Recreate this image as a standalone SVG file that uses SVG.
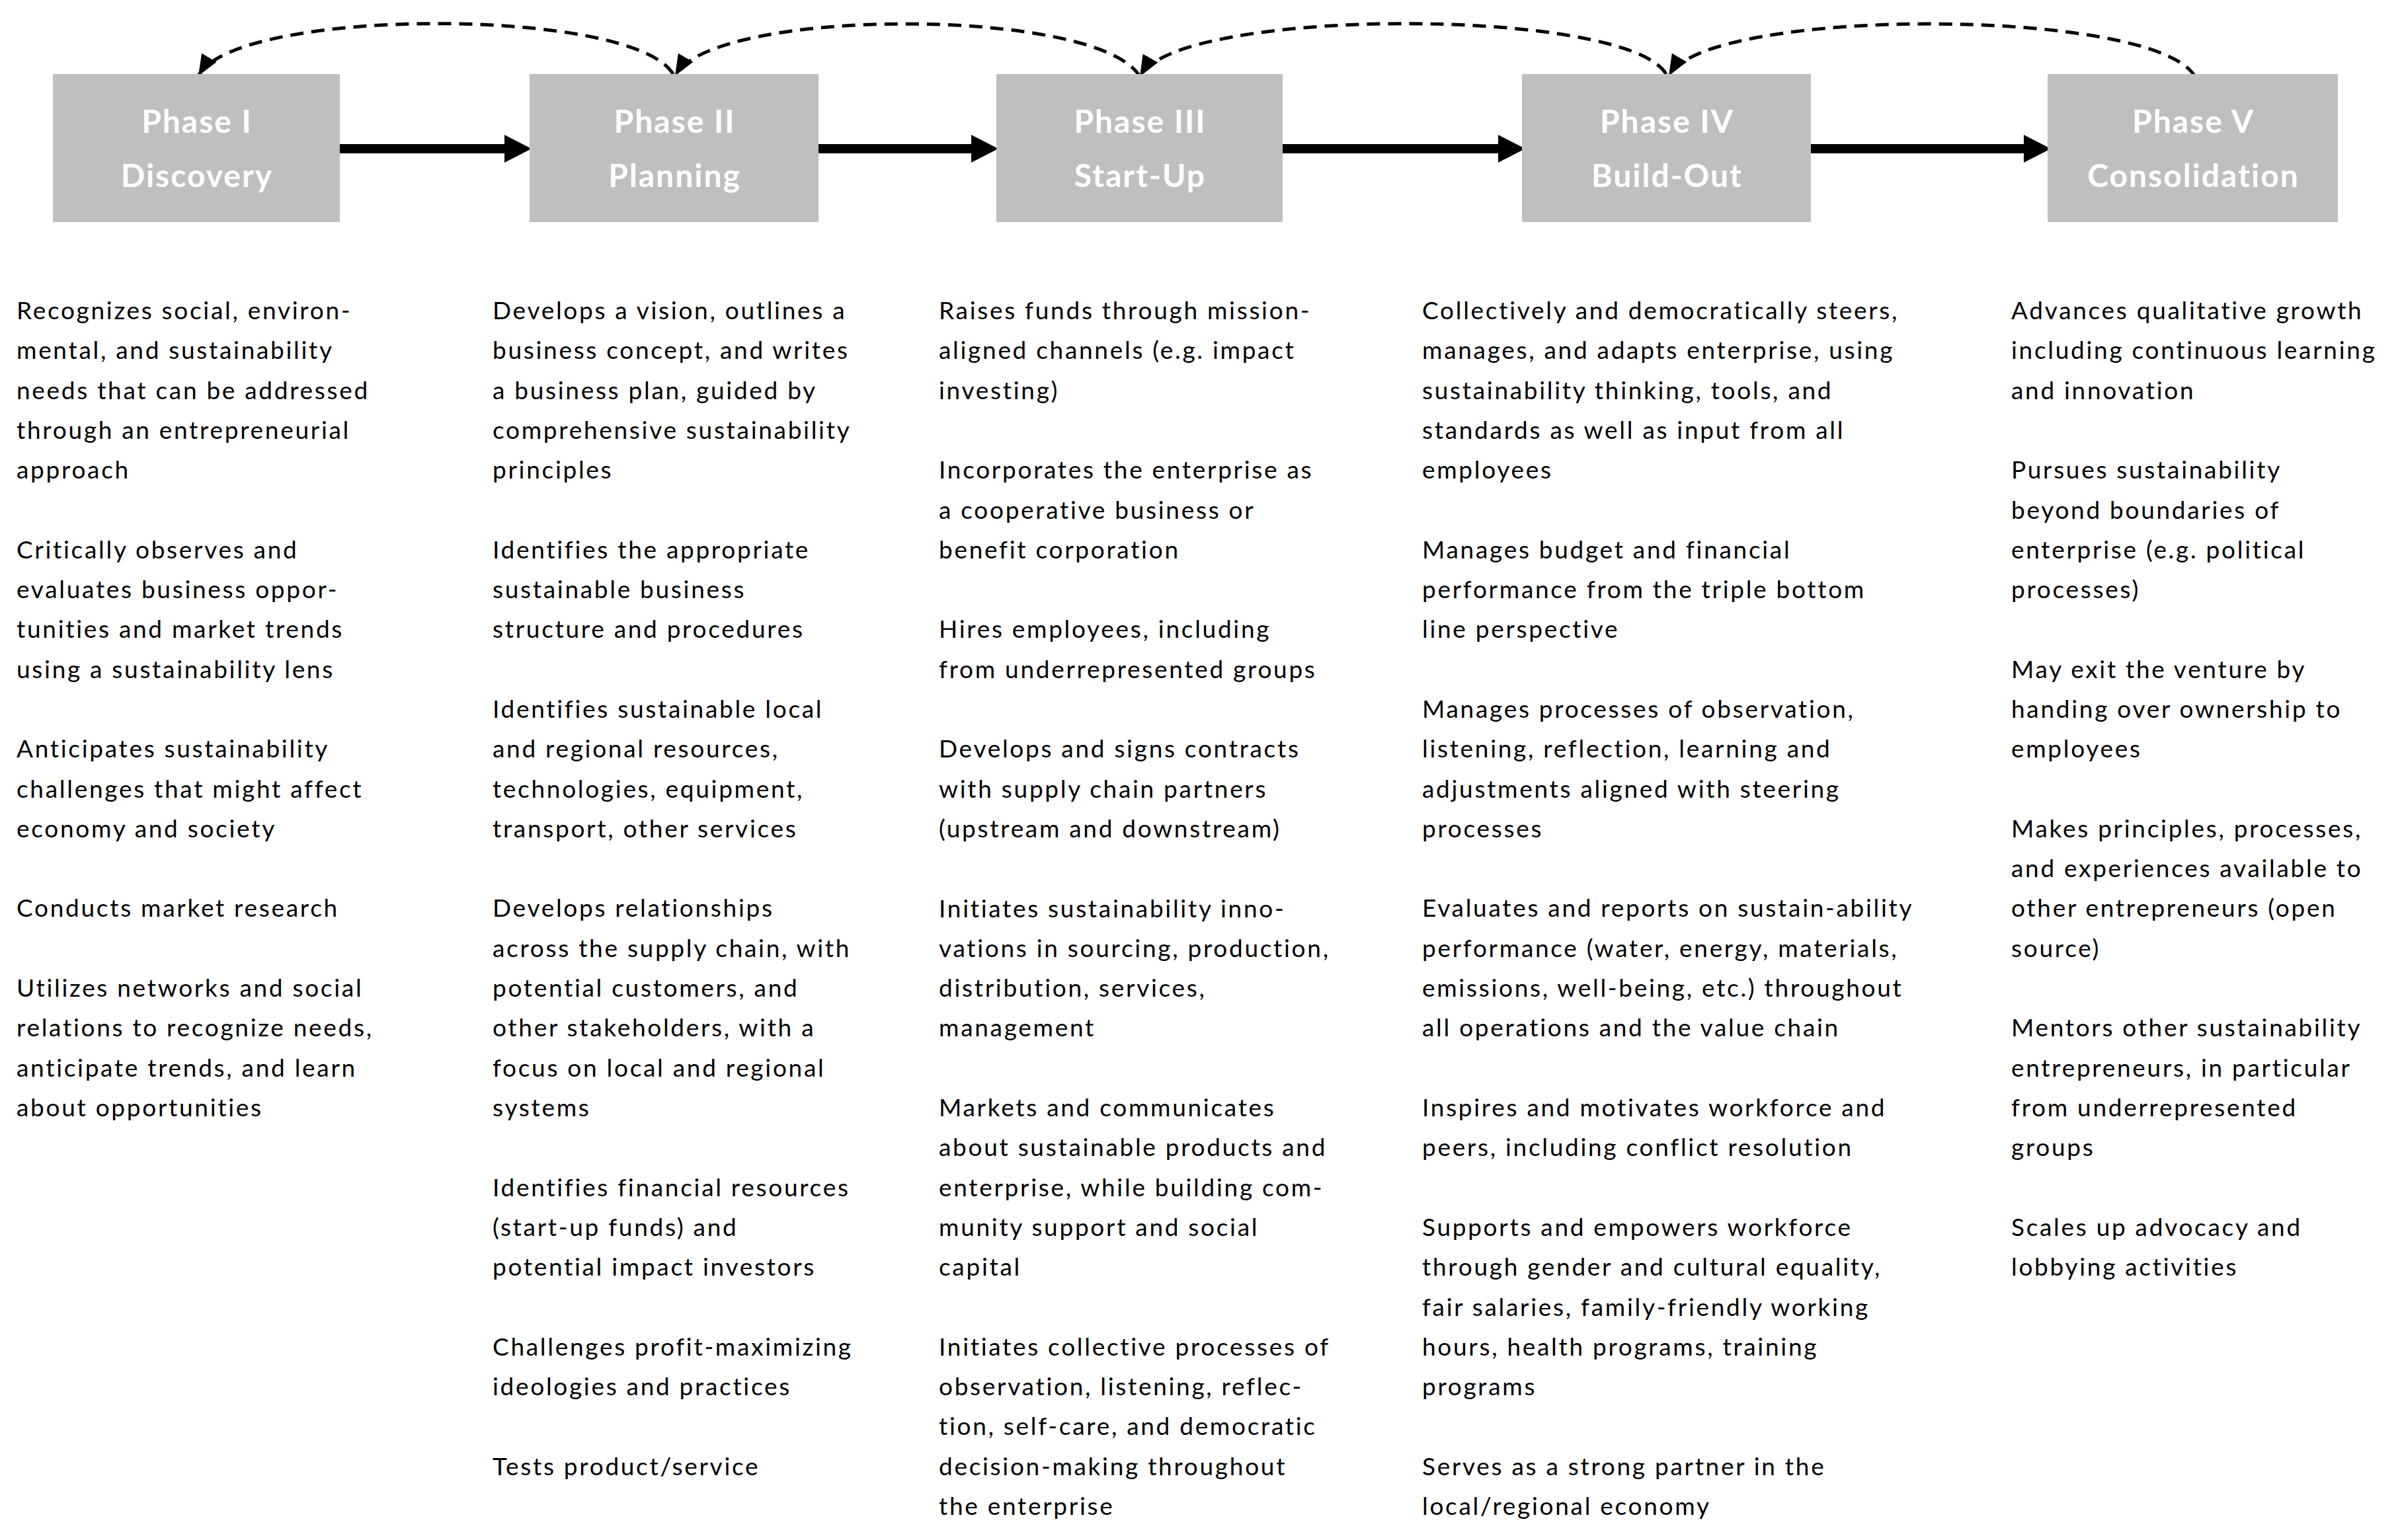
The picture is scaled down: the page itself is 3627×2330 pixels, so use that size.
<svg xmlns="http://www.w3.org/2000/svg" width="3627" height="2330" viewBox="0 0 3627 2330">
<style>
.box{fill:#BFBFBF}
.hd{font-family:"Lato","Liberation Sans",sans-serif;font-weight:bold;font-size:48px;letter-spacing:2px;fill:#FFFFFF;text-anchor:middle}
.bd{font-family:"Lato","Liberation Sans",sans-serif;font-size:37px;letter-spacing:2.7px;fill:#000000}
.flow{stroke:#000;stroke-width:14;fill:none}
.loop{stroke:#000;stroke-width:5;fill:none;stroke-dasharray:20 12}
</style>
<defs>
<marker id="bigHead" markerUnits="userSpaceOnUse" markerWidth="41" markerHeight="42" viewBox="0 0 41 42" refX="0" refY="21" orient="auto">
<path d="M0,0 L41,21 L0,42 z" fill="#000"/>
</marker>
<marker id="smallHead" markerUnits="userSpaceOnUse" markerWidth="32" markerHeight="26" viewBox="0 0 32 26" refX="30" refY="13" orient="auto">
<path d="M0,0 L32,13 L0,26 z" fill="#000"/>
</marker>
</defs>
<rect width="3627" height="2330" fill="#FFFFFF"/>
<g id="connectors">
<path class="flow" d="M514,225 L763,225" marker-end="url(#bigHead)"/>
<path class="flow" d="M1238,225 L1469,225" marker-end="url(#bigHead)"/>
<path class="flow" d="M1940,225 L2266,225" marker-end="url(#bigHead)"/>
<path class="flow" d="M2739,225 L3061,225" marker-end="url(#bigHead)"/>
<path class="loop" d="M1018,112 C958,10 362,10 301,113" marker-end="url(#smallHead)"/>
<path class="loop" d="M1724,116 C1664,10 1082,10 1022,113" marker-end="url(#smallHead)"/>
<path class="loop" d="M2520,112 C2460,10 1785,10 1725,114" marker-end="url(#smallHead)"/>
<path class="loop" d="M3320,116 C3260,10 2585,10 2525,113" marker-end="url(#smallHead)"/>
</g>
<g id="phase1">
<rect class="box" x="80" y="112" width="434" height="224"/>
<text class="hd" x="298" y="201">Phase I</text>
<text class="hd" x="298" y="283">Discovery</text>
</g>
<g id="phase2">
<rect class="box" x="801" y="112" width="437" height="224"/>
<text class="hd" x="1020.5" y="201">Phase II</text>
<text class="hd" x="1020.5" y="283">Planning</text>
</g>
<g id="phase3">
<rect class="box" x="1507" y="112" width="433" height="224"/>
<text class="hd" x="1724.5" y="201">Phase III</text>
<text class="hd" x="1724.5" y="283">Start-Up</text>
</g>
<g id="phase4">
<rect class="box" x="2302" y="112" width="437" height="224"/>
<text class="hd" x="2521.5" y="201">Phase IV</text>
<text class="hd" x="2521.5" y="283">Build-Out</text>
</g>
<g id="phase5">
<rect class="box" x="3097" y="112" width="439" height="224"/>
<text class="hd" x="3317.5" y="201">Phase V</text>
<text class="hd" x="3317.5" y="283">Consolidation</text>
</g>
<g id="col1">
<text class="bd" x="25" y="483">
<tspan x="25" dy="0">Recognizes social, environ-</tspan>
<tspan x="25" dy="60.3">mental, and sustainability</tspan>
<tspan x="25" dy="60.3">needs that can be addressed</tspan>
<tspan x="25" dy="60.3">through an entrepreneurial</tspan>
<tspan x="25" dy="60.3">approach</tspan>
<tspan x="25" dy="120.6">Critically observes and</tspan>
<tspan x="25" dy="60.3">evaluates business oppor-</tspan>
<tspan x="25" dy="60.3">tunities and market trends</tspan>
<tspan x="25" dy="60.3">using a sustainability lens</tspan>
<tspan x="25" dy="120.6">Anticipates sustainability</tspan>
<tspan x="25" dy="60.3">challenges that might affect</tspan>
<tspan x="25" dy="60.3">economy and society</tspan>
<tspan x="25" dy="120.6">Conducts market research</tspan>
<tspan x="25" dy="120.6">Utilizes networks and social</tspan>
<tspan x="25" dy="60.3">relations to recognize needs,</tspan>
<tspan x="25" dy="60.3">anticipate trends, and learn</tspan>
<tspan x="25" dy="60.3">about opportunities</tspan>
</text>
</g>
<g id="col2">
<text class="bd" x="745" y="483">
<tspan x="745" dy="0">Develops a vision, outlines a</tspan>
<tspan x="745" dy="60.3">business concept, and writes</tspan>
<tspan x="745" dy="60.3">a business plan, guided by</tspan>
<tspan x="745" dy="60.3">comprehensive sustainability</tspan>
<tspan x="745" dy="60.3">principles</tspan>
<tspan x="745" dy="120.6">Identifies the appropriate</tspan>
<tspan x="745" dy="60.3">sustainable business</tspan>
<tspan x="745" dy="60.3">structure and procedures</tspan>
<tspan x="745" dy="120.6">Identifies sustainable local</tspan>
<tspan x="745" dy="60.3">and regional resources,</tspan>
<tspan x="745" dy="60.3">technologies, equipment,</tspan>
<tspan x="745" dy="60.3">transport, other services</tspan>
<tspan x="745" dy="120.6">Develops relationships</tspan>
<tspan x="745" dy="60.3">across the supply chain, with</tspan>
<tspan x="745" dy="60.3">potential customers, and</tspan>
<tspan x="745" dy="60.3">other stakeholders, with a</tspan>
<tspan x="745" dy="60.3">focus on local and regional</tspan>
<tspan x="745" dy="60.3">systems</tspan>
<tspan x="745" dy="120.6">Identifies financial resources</tspan>
<tspan x="745" dy="60.3">(start-up funds) and</tspan>
<tspan x="745" dy="60.3">potential impact investors</tspan>
<tspan x="745" dy="120.6">Challenges profit-maximizing</tspan>
<tspan x="745" dy="60.3">ideologies and practices</tspan>
<tspan x="745" dy="120.6">Tests product/service</tspan>
</text>
</g>
<g id="col3">
<text class="bd" x="1420" y="483">
<tspan x="1420" dy="0">Raises funds through mission-</tspan>
<tspan x="1420" dy="60.3">aligned channels (e.g. impact</tspan>
<tspan x="1420" dy="60.3">investing)</tspan>
<tspan x="1420" dy="120.6">Incorporates the enterprise as</tspan>
<tspan x="1420" dy="60.3">a cooperative business or</tspan>
<tspan x="1420" dy="60.3">benefit corporation</tspan>
<tspan x="1420" dy="120.6">Hires employees, including</tspan>
<tspan x="1420" dy="60.3">from underrepresented groups</tspan>
<tspan x="1420" dy="120.6">Develops and signs contracts</tspan>
<tspan x="1420" dy="60.3">with supply chain partners</tspan>
<tspan x="1420" dy="60.3">(upstream and downstream)</tspan>
<tspan x="1420" dy="120.6">Initiates sustainability inno-</tspan>
<tspan x="1420" dy="60.3">vations in sourcing, production,</tspan>
<tspan x="1420" dy="60.3">distribution, services,</tspan>
<tspan x="1420" dy="60.3">management</tspan>
<tspan x="1420" dy="120.6">Markets and communicates</tspan>
<tspan x="1420" dy="60.3">about sustainable products and</tspan>
<tspan x="1420" dy="60.3">enterprise, while building com-</tspan>
<tspan x="1420" dy="60.3">munity support and social</tspan>
<tspan x="1420" dy="60.3">capital</tspan>
<tspan x="1420" dy="120.6">Initiates collective processes of</tspan>
<tspan x="1420" dy="60.3">observation, listening, reflec-</tspan>
<tspan x="1420" dy="60.3">tion, self-care, and democratic</tspan>
<tspan x="1420" dy="60.3">decision-making throughout</tspan>
<tspan x="1420" dy="60.3">the enterprise</tspan>
</text>
</g>
<g id="col4">
<text class="bd" x="2151" y="483">
<tspan x="2151" dy="0">Collectively and democratically steers,</tspan>
<tspan x="2151" dy="60.3">manages, and adapts enterprise, using</tspan>
<tspan x="2151" dy="60.3">sustainability thinking, tools, and</tspan>
<tspan x="2151" dy="60.3">standards as well as input from all</tspan>
<tspan x="2151" dy="60.3">employees</tspan>
<tspan x="2151" dy="120.6">Manages budget and financial</tspan>
<tspan x="2151" dy="60.3">performance from the triple bottom</tspan>
<tspan x="2151" dy="60.3">line perspective</tspan>
<tspan x="2151" dy="120.6">Manages processes of observation,</tspan>
<tspan x="2151" dy="60.3">listening, reflection, learning and</tspan>
<tspan x="2151" dy="60.3">adjustments aligned with steering</tspan>
<tspan x="2151" dy="60.3">processes</tspan>
<tspan x="2151" dy="120.6">Evaluates and reports on sustain-ability</tspan>
<tspan x="2151" dy="60.3">performance (water, energy, materials,</tspan>
<tspan x="2151" dy="60.3">emissions, well-being, etc.) throughout</tspan>
<tspan x="2151" dy="60.3">all operations and the value chain</tspan>
<tspan x="2151" dy="120.6">Inspires and motivates workforce and</tspan>
<tspan x="2151" dy="60.3">peers, including conflict resolution</tspan>
<tspan x="2151" dy="120.6">Supports and empowers workforce</tspan>
<tspan x="2151" dy="60.3">through gender and cultural equality,</tspan>
<tspan x="2151" dy="60.3">fair salaries, family-friendly working</tspan>
<tspan x="2151" dy="60.3">hours, health programs, training</tspan>
<tspan x="2151" dy="60.3">programs</tspan>
<tspan x="2151" dy="120.6">Serves as a strong partner in the</tspan>
<tspan x="2151" dy="60.3">local/regional economy</tspan>
</text>
</g>
<g id="col5">
<text class="bd" x="3042" y="483">
<tspan x="3042" dy="0">Advances qualitative growth</tspan>
<tspan x="3042" dy="60.3">including continuous learning</tspan>
<tspan x="3042" dy="60.3">and innovation</tspan>
<tspan x="3042" dy="120.6">Pursues sustainability</tspan>
<tspan x="3042" dy="60.3">beyond boundaries of</tspan>
<tspan x="3042" dy="60.3">enterprise (e.g. political</tspan>
<tspan x="3042" dy="60.3">processes)</tspan>
<tspan x="3042" dy="120.6">May exit the venture by</tspan>
<tspan x="3042" dy="60.3">handing over ownership to</tspan>
<tspan x="3042" dy="60.3">employees</tspan>
<tspan x="3042" dy="120.6">Makes principles, processes,</tspan>
<tspan x="3042" dy="60.3">and experiences available to</tspan>
<tspan x="3042" dy="60.3">other entrepreneurs (open</tspan>
<tspan x="3042" dy="60.3">source)</tspan>
<tspan x="3042" dy="120.6">Mentors other sustainability</tspan>
<tspan x="3042" dy="60.3">entrepreneurs, in particular</tspan>
<tspan x="3042" dy="60.3">from underrepresented</tspan>
<tspan x="3042" dy="60.3">groups</tspan>
<tspan x="3042" dy="120.6">Scales up advocacy and</tspan>
<tspan x="3042" dy="60.3">lobbying activities</tspan>
</text>
</g>
</svg>
